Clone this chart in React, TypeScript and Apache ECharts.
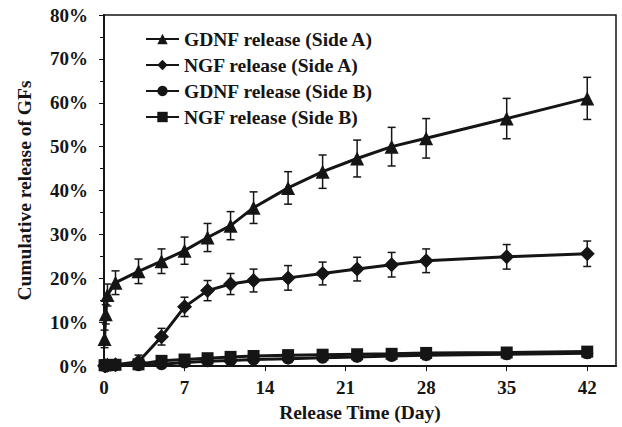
import React, { useEffect, useRef } from "react";
import * as echarts from "echarts";

const days = [0.05, 0.15, 0.3, 1, 3, 5, 7, 9, 11, 13, 16, 19, 22, 25, 28, 35, 42];
const xTicks = [0, 7, 14, 21, 28, 35, 42];
const yTicks = [0, 10, 20, 30, 40, 50, 60, 70, 80];

const gdnfA = [6.2, 11.8, 16.2, 19.0, 21.6, 23.9, 26.3, 29.3, 32.0, 36.1, 40.6, 44.3, 47.3, 50.0, 51.9, 56.4, 61.0];
const gdnfAErr = [2.0, 2.2, 2.5, 2.7, 2.8, 2.8, 3.1, 3.2, 3.2, 3.6, 3.7, 3.8, 4.2, 4.4, 4.5, 4.6, 4.8];
const ngfA = [0.1, 0.1, 0.2, 0.3, 1.0, 6.7, 13.5, 17.2, 18.7, 19.5, 20.1, 21.1, 22.1, 23.1, 24.0, 24.9, 25.6];
const ngfAErr = [0.5, 0.6, 0.8, 1.0, 1.5, 1.9, 2.2, 2.3, 2.4, 2.6, 2.8, 2.6, 2.7, 2.8, 2.7, 2.8, 2.9];
const gdnfB = [0.1, 0.1, 0.1, 0.2, 0.2, 0.4, 0.8, 1.1, 1.3, 1.5, 1.7, 1.9, 2.1, 2.3, 2.5, 2.7, 2.9];
const gdnfBErr = [0.3, 0.3, 0.3, 0.4, 0.4, 0.5, 0.6, 0.6, 0.7, 0.7, 0.8, 0.8, 0.9, 0.9, 1.0, 1.0, 1.0];
const ngfB = [0.2, 0.2, 0.2, 0.3, 0.4, 1.2, 1.5, 1.8, 2.1, 2.3, 2.5, 2.6, 2.7, 2.8, 3.0, 3.1, 3.3];
const ngfBErr = [0.3, 0.3, 0.3, 0.4, 0.4, 0.5, 0.6, 0.6, 0.7, 0.7, 0.8, 0.8, 0.9, 0.9, 1.0, 1.0, 1.0];

const seriesNames = [
  "GDNF release (Side A)",
  "NGF release (Side A)",
  "GDNF release (Side B)",
  "NGF release (Side B)",
];

const INK = "#151515";
const FONT = "'Liberation Serif', 'Times New Roman', serif";

function App() {
  const ref = useRef<HTMLDivElement>(null);

  useEffect(() => {
    if (!ref.current) return;
    const chart = echarts.init(ref.current, undefined, { renderer: "svg" });

    const groups = [
      { name: seriesNames[0], vals: gdnfA, err: gdnfAErr, symbol: "triangle", size: 14 },
      { name: seriesNames[1], vals: ngfA, err: ngfAErr, symbol: "diamond", size: 15 },
      { name: seriesNames[2], vals: gdnfB, err: gdnfBErr, symbol: "circle", size: 12 },
      { name: seriesNames[3], vals: ngfB, err: ngfBErr, symbol: "rect", size: 12 },
    ];

    const errSeries = groups.map((g) => ({
      type: "custom",
      name: g.name + " err",
      silent: true,
      z: 3,
      data: days.map((d, i) => [d, g.vals[i] - g.err[i], g.vals[i] + g.err[i]]),
      renderItem: (params: any, api: any) => {
        const x = api.value(0);
        const lo = api.coord([x, Math.max(0, api.value(1))]);
        const hi = api.coord([x, api.value(2)]);
        const cap = 4;
        const style = { stroke: INK, lineWidth: 1.5 };
        return {
          type: "group",
          children: [
            { type: "line", shape: { x1: lo[0], y1: lo[1], x2: hi[0], y2: hi[1] }, style },
            { type: "line", shape: { x1: lo[0] - cap, y1: lo[1], x2: lo[0] + cap, y2: lo[1] }, style },
            { type: "line", shape: { x1: hi[0] - cap, y1: hi[1], x2: hi[0] + cap, y2: hi[1] }, style },
          ],
        };
      },
    }));

    const lineSeries = groups.map((g) => ({
      type: "line",
      name: g.name,
      z: 4,
      data: days.map((d, i) => [d, g.vals[i]]),
      symbol: g.symbol,
      symbolSize: g.size,
      showAllSymbol: true,
      lineStyle: { color: INK, width: 3 },
      itemStyle: { color: INK, borderWidth: 0 },
    }));

    chart.setOption({
      animation: false,
      backgroundColor: "#ffffff",
      textStyle: { fontFamily: FONT },
      grid: {
        left: 104,
        right: 6,
        top: 15,
        bottom: 60,
        show: true,
        borderColor: INK,
        borderWidth: 1.5,
      },
      legend: {
        orient: "vertical",
        left: 140,
        top: 24,
        itemGap: 6,
        itemWidth: 33,
        itemHeight: 13,
        data: seriesNames,
        textStyle: { fontFamily: FONT, fontWeight: "bold", fontSize: 19.5, color: INK },
      },
      xAxis: {
        type: "value",
        min: 0,
        max: 44.5,
        interval: 7,
        name: "Release Time (Day)",
        nameLocation: "middle",
        nameGap: 34,
        nameTextStyle: { fontFamily: FONT, fontWeight: "bold", fontSize: 19.5, color: INK },
        axisLine: { show: true, lineStyle: { color: INK, width: 2 } },
        axisTick: { show: true, inside: false, length: 5, lineStyle: { color: INK, width: 1 } },
        splitLine: { show: false },
        axisLabel: {
          showMaxLabel: false,
          margin: 12,
          fontFamily: FONT,
          fontWeight: "bold",
          fontSize: 19,
          color: INK,
          formatter: (v: number) => (xTicks.includes(v) ? String(v) : ""),
        },
      },
      yAxis: {
        type: "value",
        min: 0,
        max: 80,
        interval: 10,
        name: "Cumulative release of GFs",
        nameLocation: "middle",
        nameGap: 70,
        nameTextStyle: { fontFamily: FONT, fontWeight: "bold", fontSize: 19.5, color: INK },
        axisLine: { show: true, lineStyle: { color: INK, width: 2 } },
        axisTick: { show: true, inside: false, length: 5, lineStyle: { color: INK, width: 1 } },
        minorTick: { show: true, splitNumber: 2, length: 4, lineStyle: { color: INK, width: 1 } },
        splitLine: { show: false },
        axisLabel: {
          margin: 16,
          fontFamily: FONT,
          fontWeight: "bold",
          fontSize: 19,
          color: INK,
          formatter: (v: number) => (yTicks.includes(v) ? v + "%" : ""),
        },
      },
      series: [...errSeries, ...lineSeries],
    });

    return () => chart.dispose();
  }, []);

  return <div ref={ref} style={{ width: 622, height: 427, position: "absolute", left: 0, top: 0 }} />;
}

export default App;
